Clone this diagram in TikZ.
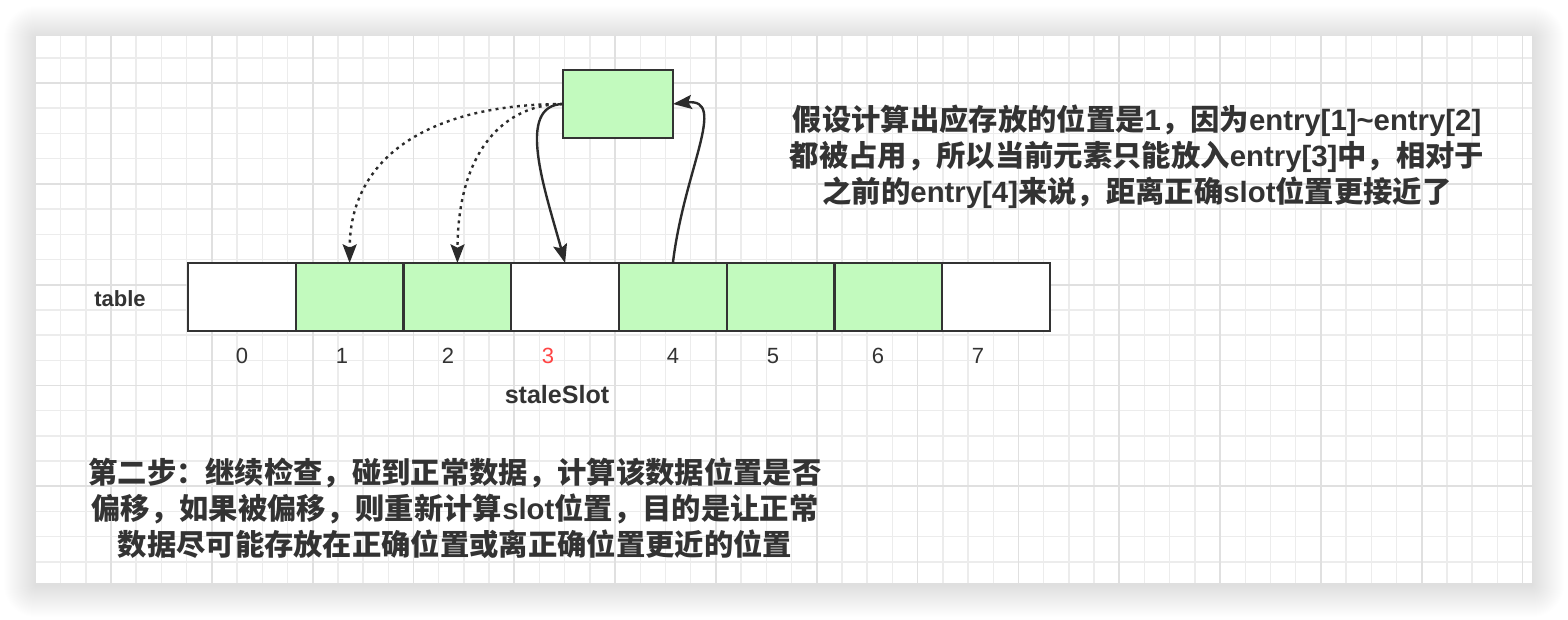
\documentclass[tikz,border=0pt]{standalone}
\usepackage{fontspec}
\setmainfont{Liberation Sans}
\newfontfamily\cjk{Noto Sans CJK SC}
\usetikzlibrary{arrows.meta}
\definecolor{cellgreen}{RGB}{194,250,190}
\definecolor{ink}{HTML}{333333}
\definecolor{gridminor}{HTML}{ECECEC}
\definecolor{gridmajor}{HTML}{E0E0E0}
\definecolor{idxred}{HTML}{FF4444}
\begin{document}
\begin{tikzpicture}[x=0.75pt,y=-0.75pt,
  cell/.style={draw=ink, line width=1.8pt, minimum width=80.81pt, minimum height=51pt, inner sep=0pt, outer sep=0pt},
  greencell/.style={cell, fill=cellgreen},
  whitecell/.style={cell, fill=white},
  link/.style={draw=ink!85!black, line width=1.8pt, -{Stealth[length=14pt,width=10.5pt,inset=2.5pt]}},
  dotlink/.style={link, dash pattern=on 2.2pt off 3.2pt},
  idx/.style={font=\fontsize{16.5pt}{19pt}\selectfont, text=ink, inner sep=0pt},
  bigtext/.style={font=\bfseries\fontsize{22pt}{27pt}\selectfont, text=ink, align=center, inner sep=0pt},
  lbl/.style={text=ink, inner sep=0pt},
  minorgrid/.style={draw=gridminor, line width=1.1pt},
  majorgrid/.style={draw=gridmajor, line width=1.3pt},
]
\useasboundingbox (0,0) rectangle (1568,620);
\fill[white] (0,0) rectangle (1568,620);
% shadow
\foreach \i in {1,...,32}{
  \pgfmathsetmacro{\r}{\i*0.75}
  \fill[black, opacity=0.0038, rounded corners={\r pt}] ({36-\i},{38-\i}) rectangle ({1532+\i},{585+\i});
}
% panel
\fill[white] (36,36) rectangle (1532,583);
% grid
\foreach \k in {1,...,59}{ \draw[minorgrid] ({35.4+\k*25.206},36) -- ({35.4+\k*25.206},583); }
\foreach \k in {0,...,20}{ \draw[minorgrid] (36,{57.8+\k*25.206}) -- (1532,{57.8+\k*25.206}); }
\foreach \k in {3,7,...,59}{ \draw[majorgrid] ({35.4+\k*25.206},36) -- ({35.4+\k*25.206},583); }
\foreach \k in {1,5,...,17}{ \draw[majorgrid] (36,{57.8+\k*25.206}) -- (1532,{57.8+\k*25.206}); }
% table cells
\node[whitecell] (c0) at (241.9,297) {};
\node[greencell] (c1) at (349.6,297) {};
\node[greencell] (c2) at (457.4,297) {};
\node[whitecell] (c3) at (565.1,297) {};
\node[greencell] (c4) at (672.9,297) {};
\node[greencell] (c5) at (780.6,297) {};
\node[greencell] (c6) at (888.4,297) {};
\node[whitecell] (c7) at (996.1,297) {};
% element box
\node[greencell, minimum width=82.5pt] (elem) at (618,104) {};
% connectors
\draw[dotlink] (elem.west) .. controls (440,104) and (350,150) .. (c1.north);
\draw[dotlink] (elem.west) .. controls (505,104) and (458,150) .. (c2.north);
\draw[link] (elem.west) .. controls (515,105) and (545,190) .. (c3.north);
\draw[link] (c4.north) .. controls (684,170) and (728,98) .. (elem.east);
% labels
\node[lbl, font=\bfseries\fontsize{16.5pt}{19pt}\selectfont] (tablelbl) at (120,299) {table};
\node[idx] (i0) at (242,356) {0};
\node[idx] (i1) at (342,356) {1};
\node[idx] (i2) at (448,356) {2};
\node[idx, text=idxred] (i3) at (548,356) {3};
\node[idx] (i4) at (673,356) {4};
\node[idx] (i5) at (773,356) {5};
\node[idx] (i6) at (878,356) {6};
\node[idx] (i7) at (978,356) {7};
\node[lbl, font=\bfseries\fontsize{18.8pt}{21pt}\selectfont] (stale) at (557,395) {staleSlot};
\node[bigtext] (note) at (1137,157) {{\cjk 假设计算出应存放的位置是}1{\cjk ，因为}entry[1]\textasciitilde entry[2]\\{\cjk 都被占用，所以当前元素只能放入}entry[3]{\cjk 中，相对于}\\{\cjk 之前的}entry[4]{\cjk 来说，距离正确}slot{\cjk 位置更接近了}};
\node[bigtext] (step) at (455,508) {{\cjk 第二步：继续检查，碰到正常数据，计算该数据位置是否}\\{\cjk 偏移，如果被偏移，则重新计算}slot{\cjk 位置，目的是让正常}\\{\cjk 数据尽可能存放在正确位置或离正确位置更近的位置}};
\end{tikzpicture}
\end{document}
